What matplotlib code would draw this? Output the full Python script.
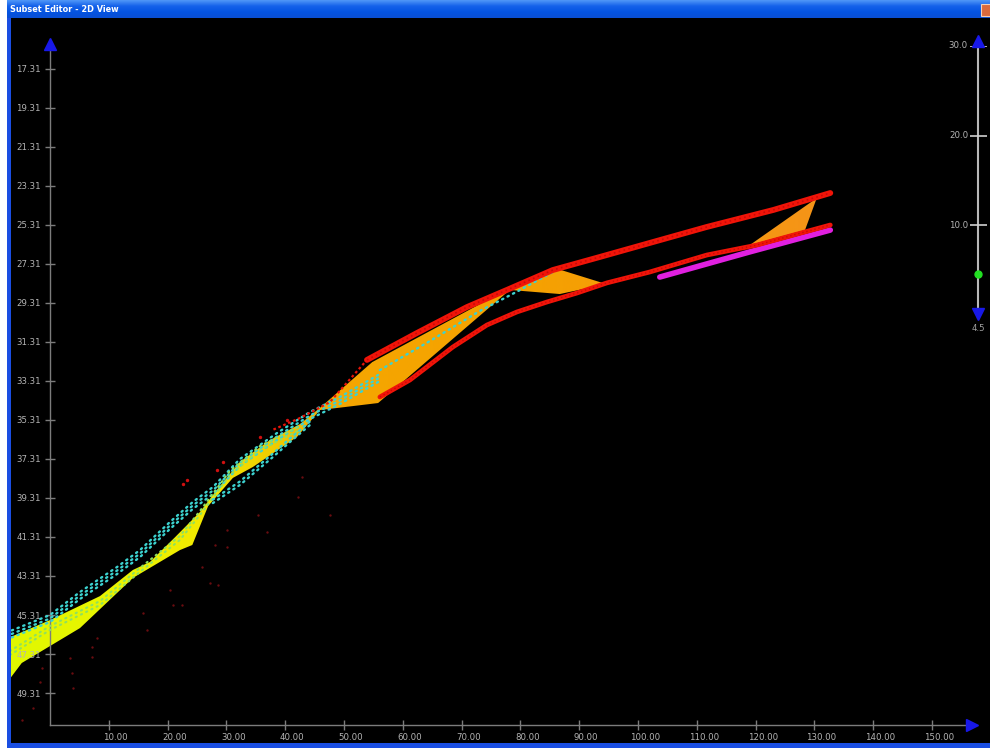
import numpy as np
import matplotlib
matplotlib.use("Agg")
import matplotlib.pyplot as plt
from matplotlib.patches import Polygon, Rectangle
from matplotlib.colors import LinearSegmentedColormap
import matplotlib.transforms as mtransforms

# ---------------- data ----------------
band_upper_x = [-7.1, 0.0, 8.5, 14.1, 17.0, 21.3, 25.5, 28.1, 32.3, 37.4, 42.5, 45.9,
                54.8, 78.2, 86.4, 94.6, 102.0, 110.5, 119.0, 130.4]
band_upper_y = [46.49, 45.57, 44.34, 43.00, 42.59, 41.31, 40.03, 39.00, 37.46, 36.34,
                35.52, 34.69, 32.34, 28.54, 27.57, 28.34, 27.77, 27.16, 26.34, 23.93]
band_lower_x = [-7.1, -4.8, 5.1, 14.1, 22.1, 24.2, 26.9, 31.1, 34.5, 42.0, 45.9, 55.8,
                78.2, 86.7, 94.6, 102.0, 110.5, 119.0, 128.4]
band_lower_y = [48.69, 47.77, 45.98, 43.41, 41.98, 41.72, 39.72, 38.28, 37.72, 36.18,
                34.80, 34.44, 28.64, 28.85, 28.34, 27.77, 27.16, 26.34, 25.57]

red_upper_left_x = [38.0, 42.5, 47.6, 53.9]
red_upper_left_y = [35.80, 35.21, 34.39, 32.23]
red_upper_x = [53.9, 62.4, 70.9, 77.7, 85.5, 93.5, 102.0, 111.7, 123.0, 132.7]
red_upper_y = [32.23, 30.85, 29.52, 28.64, 27.62, 26.95, 26.23, 25.41, 24.54, 23.67]

red_lower_x = [56.1, 61.2, 68.5, 74.3, 79.4, 84.5, 89.6, 94.7, 102.0, 111.7, 120.2, 132.7]
red_lower_y = [34.13, 33.26, 31.57, 30.44, 29.77, 29.26, 28.80, 28.28, 27.72, 26.85, 26.34, 25.31]

magenta_x = [103.7, 119.0, 132.7]
magenta_y = [27.98, 26.69, 25.57]

cyan_upper_x = [-6.5, 0.0, 5.1, 11.4, 15.3, 20.4, 24.3, 27.7, 32.3, 38.6, 44.2, 49.3, 56.1]
cyan_upper_y = [46.10, 45.31, 44.13, 42.85, 41.98, 40.54, 39.51, 38.75, 37.31, 35.98,
                34.90, 34.13, 32.95]
cyan_top_x = [56.1, 64.6, 73.1, 79.9, 86.7]
cyan_top_y = [32.75, 31.26, 29.72, 28.65, 27.52]
cyan_mid_x = [-6.8, 0.0, 8.5, 15.3, 22.1, 25.5, 30.6, 35.7, 42.5]
cyan_mid_y = [47.36, 46.08, 44.80, 43.10, 41.46, 40.18, 38.13, 36.85, 35.82]
cyan_lower_x = [27.7, 32.3, 37.9, 40.8, 44.2]
cyan_lower_y = [39.57, 38.64, 37.21, 36.44, 35.57]

red_bright_x = [22.6, 23.3, 28.4, 29.4, 35.7, 40.3]
red_bright_y = [38.59, 38.39, 37.87, 37.46, 36.18, 35.31]

red_faint_x = [3.4, 3.7, 7.1, 7.1, 8.0, 3.9, -1.4, -1.7, -2.9, -4.8, 15.8, 16.5, 20.4,
               20.9, 22.4, 25.9, 27.2, 28.6, 28.1, 30.1, 30.1, 35.4, 36.9, 42.2, 42.9, 47.6]
red_faint_y = [47.51, 48.28, 46.95, 47.46, 46.49, 49.05, 48.03, 48.75, 50.08, 50.69, 45.21,
               46.08, 44.03, 44.80, 44.80, 42.85, 43.67, 43.77, 41.72, 41.82, 40.95, 40.18,
               41.05, 39.26, 38.23, 40.18]

x_ticks = [10, 20, 30, 40, 50, 60, 70, 80, 90, 100, 110, 120, 130, 140, 150]
x_tick_labels = ["10.00", "20.00", "30.00", "40.00", "50.00", "60.00", "70.00", "80.00",
                 "90.00", "100.00", "110.00", "120.00", "130.00", "140.00", "150.00"]
y_ticks = [17.31, 19.31, 21.31, 23.31, 25.31, 27.31, 29.31, 31.31, 33.31, 35.31, 37.31,
           39.31, 41.31, 43.31, 45.31, 47.31, 49.31]
y_tick_labels = ["17.31", "19.31", "21.31", "23.31", "25.31", "27.31", "29.31", "31.31",
                 "33.31", "35.31", "37.31", "39.31", "41.31", "43.31", "45.31", "47.31", "49.31"]

slider_ticks = [30.0, 20.0, 10.0]
slider_value = 4.5
slider_min_label = "4.5"

band_grad_x = [-7.2, 15, 28, 38, 45, 50, 80, 131]
band_grad_colors = ['#e0f800', '#ecf400', '#f4e600', '#f0cc00', '#f5b200',
                    '#f5a600', '#f5a200', '#f59418']

# ---------------- figure / window chrome ----------------
W, H = 990, 748
fig = plt.figure(figsize=(W / 100, H / 100), dpi=100, facecolor='white')

# title bar
tax = fig.add_axes([7 / W, 1 - 18 / H, (W - 7) / W, 18 / H])
tgrad = np.linspace(0, 1, 36).reshape(-1, 1)
tcmap = LinearSegmentedColormap.from_list('title', ['#4f96f7', '#1461ea', '#0454e2', '#0a4fd4'])
tax.imshow(tgrad, aspect='auto', cmap=tcmap, extent=[0, 1, 0, 1])
tax.set_xlim(0, 1); tax.set_ylim(0, 1)
tax.axis('off')
fig.text(10 / W, 1 - 10 / H, "Subset Editor - 2D View", color='white', fontsize=5.9,
         fontweight='bold', ha='left', va='center', family='DejaVu Sans')
fig.patches.append(Rectangle((981 / W, 1 - 16 / H), 10 / W, 12 / H, transform=fig.transFigure,
                             facecolor='#dc6a3c', edgecolor='#f4d0b8', linewidth=0.8, zorder=5))
# left and bottom borders
fig.patches.append(Rectangle((7 / W, 0), 4 / W, 1 - 18 / H, transform=fig.transFigure,
                             facecolor='#1a4ee2', edgecolor='none', zorder=4))
fig.patches.append(Rectangle((7 / W, 0), (W - 7) / W, 5 / H, transform=fig.transFigure,
                             facecolor='#1a4ee2', edgecolor='none', zorder=4))

# ---------------- main plot axes ----------------
ax = fig.add_axes([11 / W, 5 / H, 979 / W, 725 / H])
ax.set_facecolor('black')

# gradient-filled band
poly_xy = np.column_stack([band_upper_x + band_lower_x[::-1], band_upper_y + band_lower_y[::-1]])
poly = Polygon(poly_xy, closed=True, facecolor='none', edgecolor='none', zorder=1)
ax.add_patch(poly)
pos = [(v - band_grad_x[0]) / (band_grad_x[-1] - band_grad_x[0]) for v in band_grad_x]
bcmap = LinearSegmentedColormap.from_list('band', list(zip(pos, band_grad_colors)))
im = ax.imshow(np.linspace(0, 1, 600)[None, :], cmap=bcmap, aspect='auto',
               extent=[band_grad_x[0], band_grad_x[-1], 50, 22], interpolation='bilinear',
               zorder=1)
im.set_clip_path(poly)

# faint dark red points
ax.scatter(red_faint_x, red_faint_y, s=3, color='#6a0c10', zorder=2, linewidths=0)

# cyan dotted rows
dot_style = dict(color='#3cd2d0', lw=1.7, linestyle=(0, (0.6, 2.0)), dash_capstyle='round', zorder=3)
for off in (0.0, 0.035, 0.07):
    tr = ax.transData + mtransforms.ScaledTranslation(0, -off, fig.dpi_scale_trans)
    ax.plot(cyan_upper_x, cyan_upper_y, transform=tr, **dot_style)
ax.plot(cyan_top_x, cyan_top_y, **dot_style)
for off in (0.0, 0.04):
    tr = ax.transData + mtransforms.ScaledTranslation(0, off, fig.dpi_scale_trans)
    ax.plot(cyan_mid_x, cyan_mid_y, transform=tr, color='#8ee060', lw=1.5,
            linestyle=(0, (0.6, 2.2)), dash_capstyle='round', zorder=3)
for off in (0.0, 0.035):
    tr = ax.transData + mtransforms.ScaledTranslation(0, off, fig.dpi_scale_trans)
    ax.plot(cyan_lower_x, cyan_lower_y, transform=tr, **dot_style)

# magenta and red curves
ax.plot(magenta_x, magenta_y, color='#e020e0', lw=4.0, solid_capstyle='round', zorder=4)
ax.plot(red_upper_left_x, red_upper_left_y, color='#e81408', lw=1.6,
        linestyle=(0, (1.2, 1.2)), zorder=5)
ax.plot(red_upper_x, red_upper_y, color='#f01408', lw=4.2, solid_capstyle='round', zorder=5)
ax.plot(red_upper_x, red_upper_y, color='#c80808', lw=1.2, linestyle=(0, (1, 2)), zorder=5)
ax.plot(red_lower_x, red_lower_y, color='#f01408', lw=3.4, solid_capstyle='round', zorder=5)
ax.plot(red_lower_x, red_lower_y, color='#c80808', lw=1.0, linestyle=(0, (1, 2)), zorder=5)
ax.scatter(red_bright_x, red_bright_y, s=6, color='#d01010', zorder=5, linewidths=0)

# axes styling
ax.set_xlim(-6.633, 159.86)
ax.set_ylim(51.874, 14.695)
for s in ('top', 'right'):
    ax.spines[s].set_visible(False)
ax.spines['left'].set_position(('data', 0))
ax.spines['left'].set_bounds(16.18, 50.95)
ax.spines['bottom'].set_position(('data', 50.95))
ax.spines['bottom'].set_bounds(0, 156.0)
for s in ('left', 'bottom'):
    ax.spines[s].set_color('#7c7c7c')
    ax.spines[s].set_linewidth(1.0)
ax.set_xticks(x_ticks)
ax.set_xticklabels(x_tick_labels)
ax.set_yticks(y_ticks)
ax.set_yticklabels(y_tick_labels)
ax.tick_params(direction='inout', length=7, width=1, color='#7c7c7c',
               labelcolor='#b4b4b4', labelsize=6.2, pad=2)
ax.tick_params(axis='y', pad=3)
shift = mtransforms.ScaledTranslation(0.07, 0, fig.dpi_scale_trans)
for lab in ax.get_xticklabels():
    lab.set_transform(lab.get_transform() + shift)

# axis arrows
ax.plot([0], [16.03], marker='^', color='#1818e8', ms=8, clip_on=False, zorder=6)
ax.plot([156.8], [50.95], marker='>', color='#1818e8', ms=8, clip_on=False, zorder=6)

# ---------------- right slider ----------------
sax = fig.add_axes([930 / W, 1 - 318 / H, 60 / W, 272 / H])
sax.set_facecolor('none')
sax.axis('off')
sax.set_xlim(930, 990)
sax.set_ylim(-0.39, 30)
sax.plot([978, 978], [-0.39, 30], color='#b8b8b8', lw=1.5, clip_on=False)
sax.hlines(slider_ticks, 970, 987, color='#d0d0d0', lw=1.2)
for v in slider_ticks:
    sax.text(968, v, f"{v:.1f}", ha='right', va='center', color='#b4b4b4', fontsize=6.2)
sax.plot([978], [slider_value], 'o', color='#22e022', ms=5, zorder=5)
sax.plot([978], [30.6], marker='^', color='#1818e8', ms=8, clip_on=False, zorder=6)
sax.plot([978], [0.05], marker='v', color='#1818e8', ms=8, clip_on=False, zorder=6)
sax.annotate(slider_min_label, (978, -0.39), xytext=(0, -4), textcoords='offset points',
             ha='center', va='top', color='#a0a0a0', fontsize=6.2, annotation_clip=False)

fig.savefig('out.png', dpi=100, facecolor='white')
